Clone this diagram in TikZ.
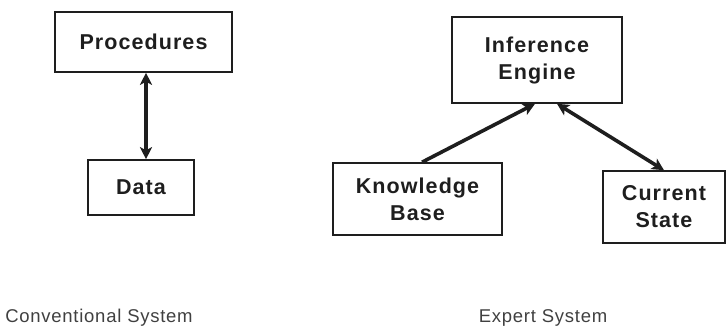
\documentclass[tikz,border=0pt]{standalone}
\usepackage{fontspec}
\setmainfont{Liberation Sans}
\newfontfamily\boxfont[LetterSpace=5]{Liberation Sans}
\newfontfamily\capfont[LetterSpace=4]{Liberation Sans}
\usetikzlibrary{arrows.meta}
\definecolor{ink}{HTML}{1E1E1E}
\tikzset{
  blk/.style={draw=ink, line width=1.6pt, rectangle, inner sep=0pt, align=center,
    font=\boxfont\bfseries\fontsize{21.5}{27}\selectfont, text=ink},
  arr/.style={draw=ink, line width=3.6pt, -{Stealth[length=12pt,width=12pt,inset=3pt]}},
  darr/.style={draw=ink, line width=3.6pt, {Stealth[length=12pt,width=12pt,inset=3pt]}-{Stealth[length=12pt,width=12pt,inset=3pt]}},
  captext/.style={font=\capfont\fontsize{18.5}{22}\selectfont, text=ink!85, inner sep=0pt}
}
\begin{document}
\begin{tikzpicture}[x=1pt,y=-1pt]
\useasboundingbox (0,0) rectangle (726,334);
\node[blk, minimum width=177pt, minimum height=60pt] (proc) at (143.5,42) {Procedures};
\node[blk, minimum width=106pt, minimum height=55pt] (data) at (141,187.5) {Data};
\node[blk, minimum width=170pt, minimum height=86pt] (ie) at (537,60) {Inference\\Engine};
\node[blk, minimum width=169pt, minimum height=72pt] (kb) at (417.5,199) {Knowledge\\Base};
\node[blk, minimum width=122pt, minimum height=72pt] (cs) at (664,207) {Current\\State};
\draw[darr] ([xshift=2.5pt]proc.south) -- ([xshift=5pt]data.north);
\draw[arr] ([xshift=4.5pt]kb.north) -- ([xshift=-2pt]ie.south);
\draw[darr] ([xshift=20pt]ie.south) -- (cs.north);
\node[captext] (c1) at (99,318) {Conventional System};
\node[captext] (c2) at (543,318) {Expert System};
\end{tikzpicture}
\end{document}
